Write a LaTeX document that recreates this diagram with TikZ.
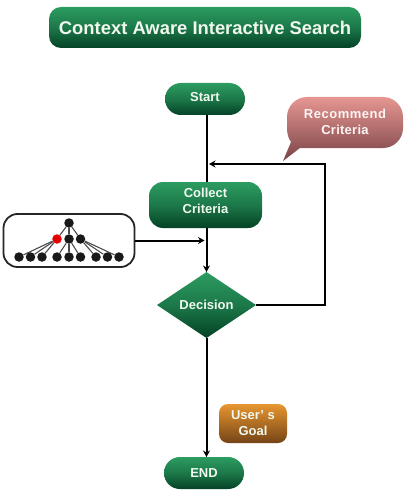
\documentclass[tikz,border=0pt]{standalone}
\usepackage{fontspec}
\setmainfont{Liberation Sans}
\usetikzlibrary{shapes.geometric,backgrounds,arrows.meta}
\definecolor{gtop}{RGB}{44,156,96}
\definecolor{gbot}{RGB}{4,66,38}
\definecolor{rtop}{RGB}{230,150,145}
\definecolor{rbot}{RGB}{122,68,72}
\definecolor{otop}{RGB}{232,150,48}
\definecolor{obot}{RGB}{116,68,22}
\definecolor{txt}{RGB}{240,248,240}
\newcommand{\lowpad}[1]{\rule[-#1pt]{0pt}{1pt}}
\tikzset{
  x=1pt,y=-1pt,
  label text/.style={text=txt,font=\fontsize{13}{16}\selectfont\bfseries,align=center,inner sep=0pt,outer sep=0pt},
  gbox/.style={label text,rectangle,top color=gtop,bottom color=gbot,middle color=gtop!60!gbot},
  conn/.style={line width=2pt,draw=black},
  arr/.style={conn,-{Stealth[length=6.5pt,width=7pt]}},
  leaf/.style={circle,fill=black!90,minimum size=9.5pt,inner sep=0pt},
  edge line/.style={line width=1.1pt,draw=black!70},
}
\begin{document}
\begin{tikzpicture}
\useasboundingbox (0,0) rectangle (413,500);
% title
\node[gbox,minimum width=312pt,minimum height=41pt,rounded corners=12pt,font=\fontsize{18.4}{22}\selectfont\bfseries] (title) at (205,27.5) {Context Aware Interactive Search};
% flow nodes
\node[gbox,minimum width=80pt,minimum height=32pt,rounded corners=15.9pt] (start) at (205,99) {Start\lowpad{5}};
\node[gbox,minimum width=113pt,minimum height=46pt,rounded corners=14pt] (collect) at (205.5,205) {Collect\\Criteria\lowpad{9}};
\node[gbox,diamond,aspect=1.5,minimum width=99pt,minimum height=66pt] (decision) at (206.5,305) {Decision};
\node[gbox,minimum width=80pt,minimum height=32pt,rounded corners=15.9pt] (end) at (204,473) {END};
\node[label text,rectangle,top color=otop,bottom color=obot,minimum width=68pt,minimum height=39pt,rounded corners=9pt] (goal) at (253,423.5) {User' s\\Goal};
% callout
\shade[top color=rtop,bottom color=rbot] (307,97) -- (383,97) arc[start angle=-90,end angle=0,radius=20] -- (403,128) arc[start angle=0,end angle=90,radius=20] -- (300,148) -- (283,161) -- (291,142) .. controls (288,138) and (287,133) .. (287,128) -- (287,117) arc[start angle=180,end angle=270,radius=20] -- cycle;
\node[label text,text=white!90!rtop] (recommend) at (345,122) {\addfontfeature{LetterSpace=4}Recommend\\\addfontfeature{LetterSpace=2}Criteria};
\coordinate (join) at (209,164);
\coordinate (mergein) at (204.5,240.5);
\coordinate (corner) at (325,305);
% tree
\node[leaf] (r) at (69,223) {};
\node[leaf,fill=red!90!black] (m1) at (57,239) {};
\node[leaf] (m2) at (69,239) {};
\node[leaf] (m3) at (80.5,239) {};
\foreach \n/\x in {a/19,b/30.5,c/42,d/57,e/69,f/80.5,g/96,h/107.5,i/119}
  \node[leaf] (\n) at (\x,257) {};
\begin{pgfonlayer}{background}
  \node[draw=black!85,line width=1.8pt,fill=white,rectangle,rounded corners=14pt,minimum width=131pt,minimum height=53pt,inner sep=0pt] (treebox) at (69,240.5) {};
  \foreach \p/\q in {r/m1,r/m2,r/m3,m1/a,m1/b,m1/c,m2/d,m2/e,m2/f,m3/g,m3/h,m3/i}
    \draw[edge line] (\p) -- (\q);
  \draw[arr] (start.south -| decision.north) -- (decision.north);
  \draw[arr] (decision.south) -- (end.north -| decision.south);
\end{pgfonlayer}
\draw[arr] (treebox.east) -- (mergein);
\draw[arr] (decision.east) -- (corner) |- (join);
\end{tikzpicture}
\end{document}
